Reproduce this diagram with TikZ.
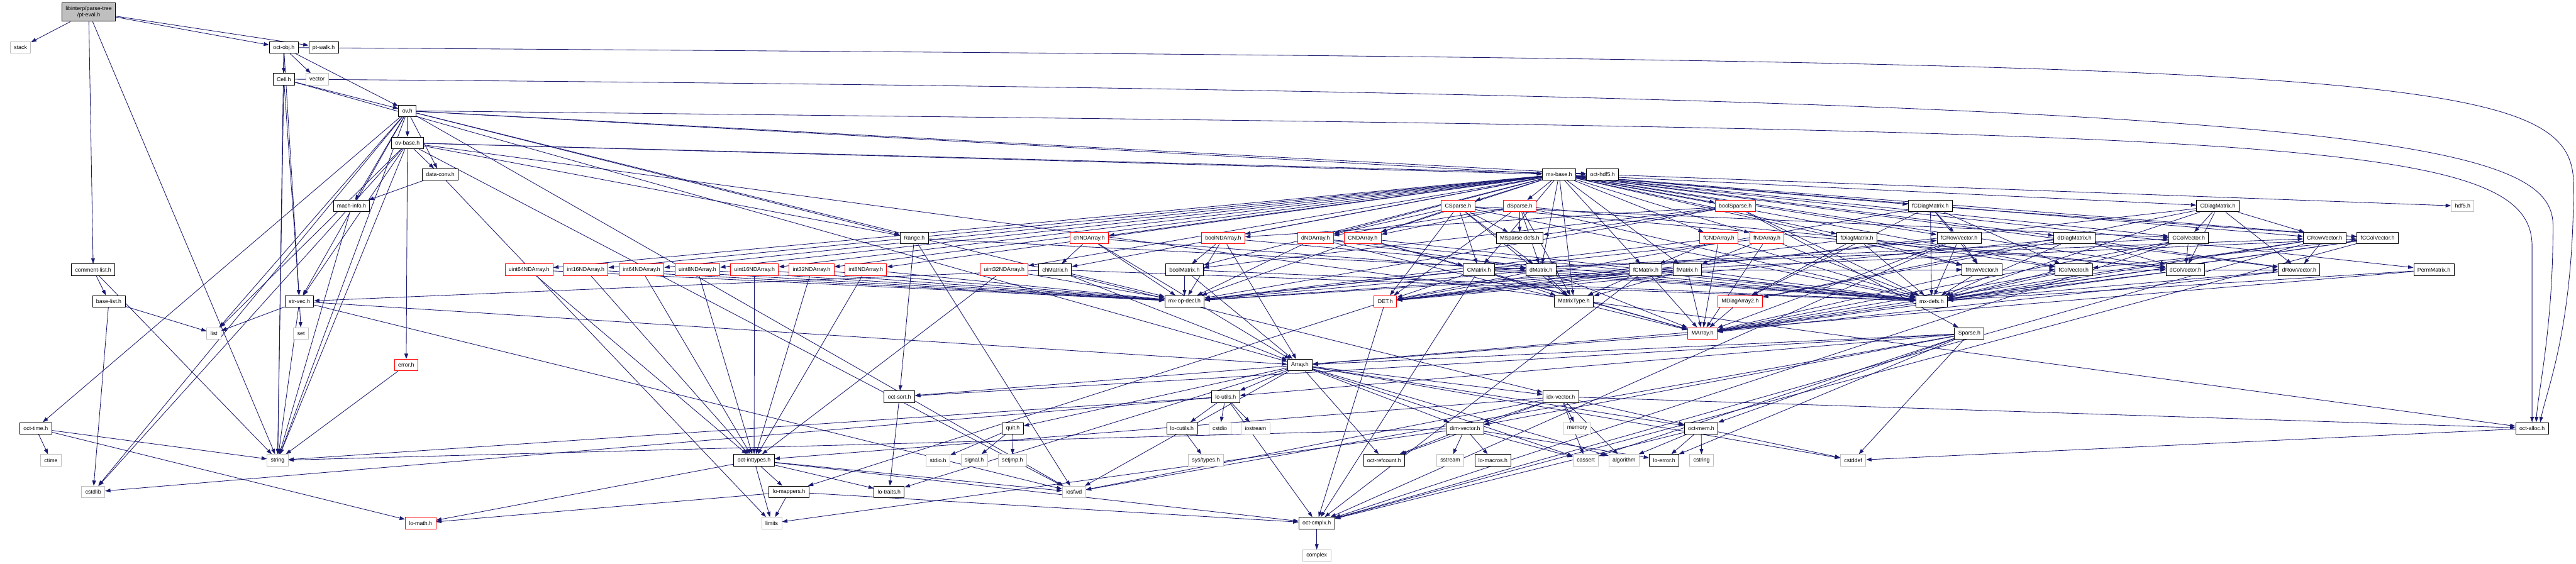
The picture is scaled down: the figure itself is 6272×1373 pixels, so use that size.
\documentclass[tikz,border=0pt]{standalone}
\usepackage{fontspec}
\setmainfont{Liberation Sans}
\usetikzlibrary{arrows.meta}
\definecolor{edge}{HTML}{191970}
\definecolor{sysgray}{HTML}{BFBFBF}
\definecolor{rootfill}{HTML}{BFBFBF}
\pgfdeclarelayer{bg}
\pgfsetlayers{bg,main}
\begin{document}
\begin{tikzpicture}[x=1pt,y=-1pt,
  hdr/.style={draw=black,fill=white,line width=1.5pt,font=\fontsize{13.5}{15}\selectfont,inner xsep=9pt,inner ysep=0pt,minimum height=28pt},
  hdrred/.style={hdr,draw=red},
  hdrsys/.style={hdr,draw=sysgray},
  hdrroot/.style={hdr,fill=rootfill,align=center,minimum height=45pt,minimum width=130pt},
  dep/.style={draw=edge,line width=1.3pt,-{Triangle[length=13pt,width=9pt]}}]
  \useasboundingbox (0,0) rectangle (6272,1373);
  \node[hdrroot] (ptEval) at (216,29.5) {libinterp/parse-tree\\/pt-eval.h};
  \foreach \n/\l/\x/\y in {octObj/oct-obj.h/691/116, ptWalk/pt-walk.h/788/116, cell/Cell.h/691/193, ov/ov.h/992/270,
    ovBase/ov-base.h/992/348, dataConv/data-conv.h/1072/425, mxBase/mx-base.h/3796/425, octHdf/oct-hdf5.h/3902/425,
    machInfo/mach-info.h/856/502, fCDiag/fCDiagMatrix.h/4700/502, CDiag/CDiagMatrix.h/5400/502,
    range/Range.h/2226/580, MSpDefs/MSparse-defs.h/3700/580, fDiag/fDiagMatrix.h/4521/580, fCRow/fCRowVector.h/4770/580,
    dDiag/dDiagMatrix.h/5051/580, CCol/CColVector.h/5329/580, CRow/CRowVector.h/5660/580, fCCol/fCColVector.h/5789/580,
    commentList/comment-list.h/227/657, chMat/chMatrix.h/2569/657, boolMat/boolMatrix.h/2884/657, CMat/CMatrix.h/3601/657,
    dMat/dMatrix.h/3752/657, fCMat/fCMatrix.h/4007/657, fMat/fMatrix.h/4108/657, fRow/fRowVector.h/4826/657,
    fCol/fColVector.h/5049/657, dCol/dColVector.h/5321/657, dRow/dRowVector.h/5598/657, perm/PermMatrix.h/5926/657,
    baseList/base-list.h/265/734, strVec/str-vec.h/729/734, mxOpDecl/mx-op-decl.h/2884/734, matType/MatrixType.h/3832/734,
    mxDefs/mx-defs.h/4703/734, sparse/Sparse.h/4795/812, array/Array.h/3165/889, octSort/oct-sort.h/2190/966,
    loUtils/lo-utils.h/2984/966, idxVec/idx-vector.h/3800/966, octTime/oct-time.h/87/1043, quit/quit.h/2466/1043,
    loCutils/lo-cutils.h/2878/1043, dimVec/dim-vector.h/3567/1043, octMem/oct-mem.h/4142/1043, octAlloc/oct-alloc.h/6165/1043,
    octInt/oct-inttypes.h/1836/1121, refcount/oct-refcount.h/3370/1121, loMacros/lo-macros.h/3635/1121,
    loError/lo-error.h/4052/1121, loMappers/lo-mappers.h/1921/1198, loTraits/lo-traits.h/2165/1198, octCmplx/oct-cmplx.h/3206/1274}
    \node[hdr] (\n) at (\x,\y) {\l};
  \foreach \n/\l/\x/\y in {CSparse/CSparse.h/3550/502, dSparse/dSparse.h/3700/502, boolSparse/boolSparse.h/4225/502,
    chND/chNDArray.h/2652/580, boolND/boolNDArray.h/2978/580, dND/dNDArray.h/3203/580, CND/CNDArray.h/3318/580,
    fCND/fCNDArray.h/4185/580, fND/fNDArray.h/4302/580, ui64/uint64NDArray.h/1288/657, i16/int16NDArray.h/1426/657,
    i64/int64NDArray.h/1562/657, ui8/uint8NDArray.h/1698/657, ui16/uint16NDArray.h/1837/657, i32/int32NDArray.h/1976/657,
    i8/int8NDArray.h/2108/657, ui32/uint32NDArray.h/2445/657, DET/DET.h/3373/734, MDiag/MDiagArray2.h/4237/734,
    MArray/MArray.h/4145/812, error/error.h/989/889, loMath/lo-math.h/1024/1274}
    \node[hdrred] (\n) at (\x,\y) {\l};
  \foreach \n/\l/\x/\y in {stack/stack/50/116, vector/vector/772/193, hdf/hdf5.h/5996/502, list/list/521/812, set/set/733/812,
    cstdio/cstdio/2970/1043, iostream/iostream/3057/1043, memory/memory/3840/1043, ctime/ctime/124/1121,
    string/string/676/1121, stdioh/stdio.h/2284/1121, signalh/signal.h/2372/1121, setjmph/setjmp.h/2465/1121,
    sstream/sstream/3531/1121, cassert/cassert/3861/1121, algorithm/algorithm/3954/1121, cstring/cstring/4143/1121,
    cstddef/cstddef/4512/1121, cstdlib/cstdlib/227/1198, iosfwd/iosfwd/2615/1198, limits/limits/1879/1274,
    complex/complex/3206/1353}
    \node[hdrsys] (\n) at (\x,\y) {\l};
  \node[hdrsys] (systypes) at (2936,1121) {sys/types.h};
  \begin{pgfonlayer}{bg}
  \fill[white] (0,0) rectangle (6272,1373);
  \foreach \t in {stack,octObj,ptWalk,commentList,string} \draw[dep] (ptEval) -- (\t);
  \foreach \t in {vector,cell,ov,strVec,string} \draw[dep] (octObj) -- (\t);
  \foreach \t in {ov,strVec,array,string} \draw[dep] (cell) -- (\t);
  \foreach \t in {ovBase,dataConv,machInfo,range,idxVec,mxBase,octTime,strVec,string,list,cstdlib,iosfwd,octHdf} \draw[dep] (ov) -- (\t);
  \foreach \t in {dataConv,range,mxBase,octHdf,strVec,error,string,list,cstdlib,iosfwd,octAlloc} \draw[dep] (ovBase) -- (\t);
  \draw[dep] (octObj.east) .. controls (5800,150) and (6266,160) .. (6266,450) .. controls (6266,800) and (6200,950) .. ([xshift=20pt]octAlloc.north);
  \draw[dep] (cell.east) .. controls (5700,230) and (6216,330) .. (6216,550) .. controls (6216,800) and (6180,950) .. ([xshift=10pt]octAlloc.north);
  \draw[dep] (ov.east) .. controls (5500,320) and (6165,320) .. (6165,600) -- (octAlloc.north);
  \foreach \t in {machInfo,limits} \draw[dep] (dataConv) -- (\t);
  \draw[dep] (machInfo) -- (string);
  \foreach \t in {baseList,string} \draw[dep] (commentList) -- (\t);
  \foreach \t in {list,cstdlib} \draw[dep] (baseList) -- (\t);
  \foreach \t in {list,set,string,array,iosfwd} \draw[dep] (strVec) -- (\t);
  \draw[dep] (error) -- (string);
  \foreach \t in {ctime,string,loMath} \draw[dep] (octTime) -- (\t);
  \draw[dep] (octHdf) -- (hdf);
  \foreach \t in {dMat,octSort,iosfwd} \draw[dep] (range) -- (\t);
  \foreach \t in {boolMat,chMat,dMat,CMat,fMat,fCMat,dCol,CCol,fCol,fCCol,dRow,CRow,fRow,fCRow,dDiag,CDiag,fDiag,fCDiag,perm,
    boolND,chND,dND,CND,fND,fCND,i8,i16,i32,i64,ui8,ui16,ui32,ui64,boolSparse,dSparse,CSparse,matType} \draw[dep] (mxBase) -- (\t);
  \foreach \t in {dND,CND,dMat,CMat,dCol,CCol,MSpDefs,DET,matType,mxDefs} \draw[dep] (CSparse) -- (\t);
  \foreach \t in {dMat,dND,CND,dCol,MSpDefs,DET,matType,mxDefs} \draw[dep] (dSparse) -- (\t);
  \foreach \t in {sparse,boolMat,boolND,MSpDefs,mxDefs,mxOpDecl} \draw[dep] (boolSparse) -- (\t);
  \foreach \s in {ui64,i16,i64,ui8,ui16,i32,i8,ui32} {\draw[dep] (\s) -- (octInt); \draw[dep] (\s) -- (mxOpDecl);}
  \foreach \t in {array,chMat,mxDefs,mxOpDecl} \draw[dep] (chND) -- (\t);
  \foreach \t in {array,boolMat,mxDefs,mxOpDecl} \draw[dep] (boolND) -- (\t);
  \foreach \t in {array,mxDefs,mxOpDecl,strVec} \draw[dep] (chMat) -- (\t);
  \foreach \t in {array,mxDefs,mxOpDecl} \draw[dep] (boolMat) -- (\t);
  \foreach \s/\m in {dND/dMat,CND/CMat,fND/fMat,fCND/fCMat} {\foreach \t in {MArray,\m,mxDefs,mxOpDecl} \draw[dep] (\s) -- (\t);}
  \foreach \t in {MArray,dRow,dCol,DET,matType,mxDefs,mxOpDecl} \draw[dep] (dMat) -- (\t);
  \foreach \t in {MArray,dRow,dCol,CRow,CCol,DET,matType,mxDefs,mxOpDecl,octCmplx} \draw[dep] (CMat) -- (\t);
  \foreach \t in {MArray,fRow,fCol,DET,matType,mxDefs,mxOpDecl} \draw[dep] (fMat) -- (\t);
  \foreach \t in {MArray,fRow,fCol,fCRow,fCCol,DET,matType,mxDefs,mxOpDecl,octCmplx} \draw[dep] (fCMat) -- (\t);
  \foreach \s in {dRow,dCol,fRow,fCol} {\draw[dep] (\s) -- (MArray); \draw[dep] (\s) -- (mxDefs);}
  \foreach \s/\m in {CRow/dRow,CCol/dCol,fCRow/fRow,fCCol/fCol} {\foreach \t in {MArray,\m,mxDefs,octCmplx} \draw[dep] (\s) -- (\t);}
  \foreach \t in {MDiag,dRow,dCol,DET,mxDefs} \draw[dep] (dDiag) -- (\t);
  \foreach \t in {MDiag,dRow,CRow,dCol,CCol,DET,mxDefs} \draw[dep] (CDiag) -- (\t);
  \foreach \t in {MDiag,fRow,fCol,DET,mxDefs} \draw[dep] (fDiag) -- (\t);
  \foreach \t in {MDiag,fRow,fCRow,fCol,fCCol,DET,mxDefs} \draw[dep] (fCDiag) -- (\t);
  \foreach \t in {array,mxDefs} \draw[dep] (perm) -- (\t);
  \foreach \t in {octCmplx,loMappers} \draw[dep] (DET) -- (\t);
  \draw[dep] (MDiag) -- (MArray);
  \draw[dep] (MArray) -- (array);
  \foreach \t in {array,dimVec,loError,loUtils,octSort,octMem,cassert,cstddef,iosfwd} \draw[dep] (sparse) -- (\t);
  \foreach \t in {dimVec,idxVec,loTraits,loUtils,octSort,quit,octMem,refcount,cassert,cstddef,algorithm,iosfwd} \draw[dep] (array) -- (\t);
  \foreach \t in {memory,dimVec,cassert,algorithm,refcount,octAlloc,octInt,octMem,iosfwd} \draw[dep] (idxVec) -- (\t);
  \foreach \t in {refcount,sstream,loMacros,cassert,loError,limits,string} \draw[dep] (dimVec) -- (\t);
  \draw[dep] (octSort) -- (loTraits);
  \foreach \t in {loCutils,cstdio,iostream,string,octCmplx,cstdlib} \draw[dep] (loUtils) -- (\t);
  \draw[dep] (loCutils) -- (systypes);
  \foreach \t in {stdioh,signalh,setjmph} \draw[dep] (quit) -- (\t);
  \foreach \t in {cstddef,cstring,algorithm,loError,octCmplx} \draw[dep] (octMem) -- (\t);
  \foreach \t in {limits,loMappers,loMath,loTraits,octCmplx,iosfwd} \draw[dep] (octInt) -- (\t);
  \foreach \t in {loMath,limits,octCmplx} \draw[dep] (loMappers) -- (\t);
  \draw[dep] (octCmplx) -- (complex);
  \draw[dep] (octAlloc) -- (cstddef);
  \end{pgfonlayer}
\end{tikzpicture}
\end{document}
